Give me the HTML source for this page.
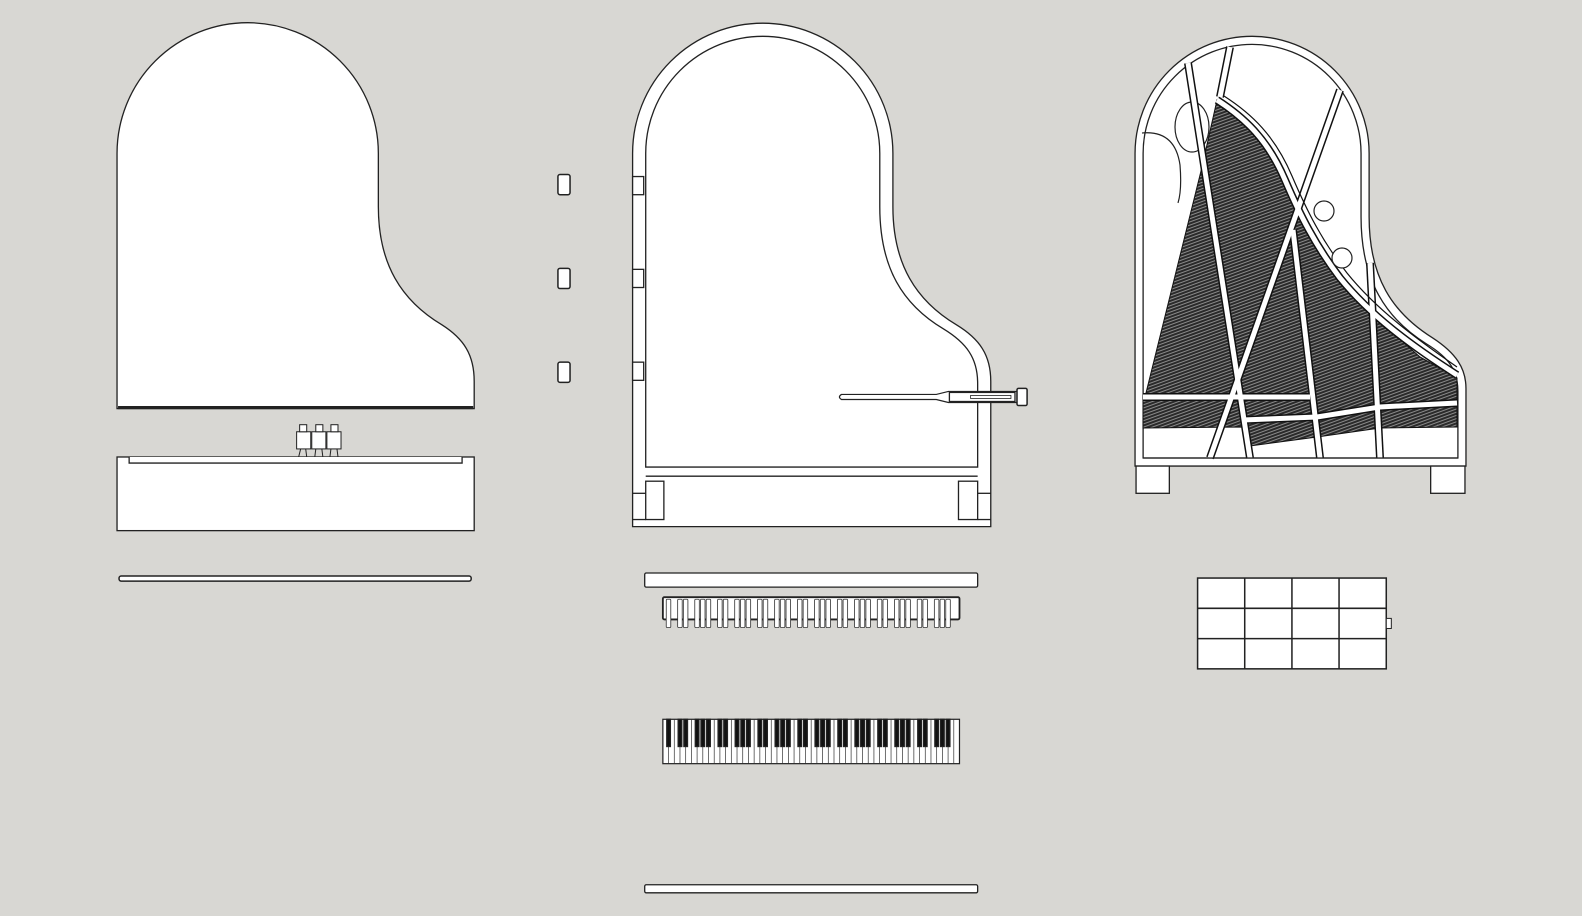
<!DOCTYPE html>
<html><head><meta charset="utf-8"><style>
html,body{margin:0;padding:0;background:#d8d7d3;}
svg{display:block}
</style></head><body>
<svg id="s" width="1582" height="916" viewBox="0 0 1568 908" preserveAspectRatio="none" xmlns="http://www.w3.org/2000/svg">
<defs>
<pattern id="h" width="3" height="3" patternUnits="userSpaceOnUse" patternTransform="rotate(70)">
<rect width="3" height="3" fill="#2a2a2a"/><rect width="1" height="3" fill="#8a8a8a"/>
</pattern>
</defs>
<rect width="1568" height="908" fill="#d8d7d3"/>
<g fill="#fff" stroke="#222" stroke-width="1.3">
<path d="M116,405 L116,152 A129.5,129.5 0 0 1 375,152 L375,205 C375,262 398,298 438,322 C460,336 470,352 470,378 L470,405 Z"/>
<line x1="117" y1="404" x2="469" y2="404" stroke-width="3"/>
<g stroke-width="1">
<rect x="294" y="428" width="14" height="17"/><rect x="309" y="428" width="14" height="17"/><rect x="324" y="428" width="14" height="17"/>
<rect x="297" y="421" width="7" height="7"/><rect x="313" y="421" width="7" height="7"/><rect x="328" y="421" width="7" height="7"/>
<path d="M298,445 L296,453 M303,445 L304,453 M313,445 L312,453 M319,445 L320,453 M328,445 L327,453 M334,445 L335,453"/>
</g>
<rect x="116" y="453" width="354" height="73"/>
<path d="M128,453 L128,459 L458,459 L458,453" />
<rect x="118" y="571" width="349" height="5" rx="2" stroke-width="1.5"/>
<g stroke-width="1.5"><rect x="553" y="173" width="12" height="20" rx="2"/><rect x="553" y="266" width="12" height="20" rx="2"/><rect x="553" y="359" width="12" height="20" rx="2"/></g>
<path d="M627,522 L627,152 A129,129 0 0 1 885,152 L885,205 C885,262 908,298 948,322 C971,336 982,352 982,378 L982,522 Z"/>
<path d="M640,463 L640,152 A116,116 0 0 1 872,152 L872,205 C872,266 895,302 935,326 C958,340 969,355 969,380 L969,463 Z"/>
<line x1="640" y1="472" x2="969" y2="472"/>
<rect x="640" y="477" width="18" height="38"/><rect x="950" y="477" width="19" height="38"/>
<line x1="627" y1="515" x2="640" y2="515"/><line x1="969" y1="515" x2="982" y2="515"/>
<line x1="627" y1="489" x2="640" y2="489"/><line x1="969" y1="489" x2="982" y2="489"/>
<rect x="627" y="175" width="11" height="18"/><rect x="627" y="267" width="11" height="18"/><rect x="627" y="359" width="11" height="18"/>
<path d="M834,391 L928,391 L940,388 L1008,388 L1008,399 L940,399 L928,396 L834,396 Q830,393.5 834,391 Z" stroke-width="1.2"/>
<rect x="941" y="389" width="65" height="9"/>
<rect x="962" y="392" width="40" height="3" stroke-width="0.8"/>
<rect x="1008" y="385" width="10" height="17" rx="1.5" stroke-width="1.5"/>
<rect x="639" y="568" width="330" height="14" rx="1.5"/>
<rect x="639" y="877" width="330" height="8" rx="1.5"/>
<rect x="657" y="592" width="294" height="22" rx="1.5" stroke-width="1.8"/>
<g id="act"></g>
<rect x="657" y="713" width="294" height="44" stroke-width="1.2"/>
<g id="keys"></g>
<rect x="1187" y="573" width="187" height="90" stroke-width="1.5"/>
<path d="M1233.7,573 V663 M1280.5,573 V663 M1327.2,573 V663 M1187,603 H1374 M1187,633 H1374" stroke-width="1.5"/>
<rect x="1374" y="613" width="5" height="10" stroke-width="1"/>
<path d="M1125,462 L1125,152 A116,116 0 0 1 1357,152 L1357,215 C1357,275 1380,310 1420,335 C1443,350 1453,365 1453,385 L1453,462 Z"/>
<rect x="1126" y="462" width="33" height="27"/><rect x="1418" y="462" width="34" height="27"/>
<path d="M1133,454 L1133,152 A108,108 0 0 1 1349,152 L1349,215 C1349,279 1374,316 1414,341 C1437,355 1445,368 1445,388 L1445,454 Z"/>
</g>
<!-- piano 3 internals in original pixel coords -->
<g transform="scale(0.99115)">
<path d="M1142,133 Q1175,130 1180,165 Q1182,190 1178,203" fill="none" stroke="#222" stroke-width="1.2"/>
<ellipse cx="1192" cy="127" rx="17" ry="25" fill="#fff" stroke="#222" stroke-width="1.2"/>
<path d="M1202,167 L1217,100 L1253,130 L1277,163 L1300,217 L1327,263 L1370,313 L1420,357 L1457,378 L1457,427 L1380,428 L1317,437 L1250,446 L1243,427 L1143,428 L1143,397 L1145,397 Z" fill="url(#h)" stroke="#111"/>
<g fill="none" stroke="#111">
<g stroke-width="8"><path d="M1188,63 L1250,458"/><path d="M1230,47 L1220,97"/><path d="M1340,90 L1210,458"/><path d="M1293,230 L1320,458"/><path d="M1370,263 L1380,458"/><path d="M1143,397 L1310,397 M1243,420 L1317,417 L1380,407 L1457,403"/>
<path d="M1217,100 C1245,118 1268,140 1285,180 C1300,215 1315,245 1340,278 C1370,315 1410,345 1457,375"/></g>
<g stroke="#fff" stroke-width="5"><path d="M1188,63 L1250,458"/><path d="M1230,47 L1220,97"/><path d="M1340,90 L1210,458"/><path d="M1293,230 L1320,458"/><path d="M1370,263 L1380,458"/><path d="M1143,397 L1310,397 M1243,420 L1317,417 L1380,407 L1457,403"/>
<path d="M1217,100 C1245,118 1268,140 1285,180 C1300,215 1315,245 1340,278 C1370,315 1410,345 1457,375"/></g>
<path d="M1224,96 C1252,114 1275,136 1292,176 C1307,211 1322,241 1347,273 C1376,309 1415,338 1457,367" stroke-width="1.2"/>
</g>
<g fill="#fff" stroke="#222" stroke-width="1.2"><circle cx="1324" cy="211" r="10"/><circle cx="1342" cy="258" r="10"/></g>
</g>
<path d="M1133,454 L1445,454" stroke="#222" stroke-width="1.3"/>
</svg>
<script>
var ns="http://www.w3.org/2000/svg";
function el(p,t,a){var e=document.createElementNS(ns,t);for(var k in a)e.setAttribute(k,a[k]);p.appendChild(e);return e;}
var keys=document.getElementById("keys"),act=document.getElementById("act");
var w=294/52,x0=657;
for(var i=1;i<52;i++)el(keys,"line",{x1:x0+i*w,y1:713,x2:x0+i*w,y2:757,stroke:"#333","stroke-width":"0.7"});
var names="ABCDEFG";
for(var i=0;i<51;i++){var n=names[i%7];if(n=="B"||n=="E")continue;
 var bx=x0+(i+1)*w-1.8;el(keys,"rect",{x:bx,y:713,width:3.6,height:27,fill:"#111"});
 el(act,"rect",{x:bx-0.5,y:594,width:4.5,height:28,fill:"#fff",stroke:"#333","stroke-width":"0.8",rx:"1"});}
</script>
</body></html>
